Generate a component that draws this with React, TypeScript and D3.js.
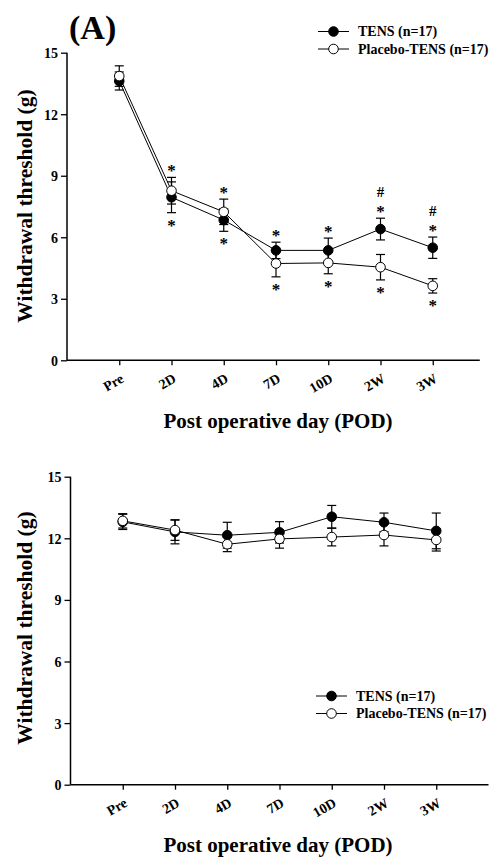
import React, { useEffect, useRef } from "react";
import * as d3 from "d3";

const categories = ["Pre", "2D", "4D", "7D", "10D", "2W", "3W"];
const yTicks = [0, 3, 6, 9, 12, 15];

// Panel A
const tensA = [13.62, 7.95, 6.84, 5.36, 5.36, 6.4, 5.49];
const tensSeA = [0.44, 0.75, 0.55, 0.4, 0.6, 0.53, 0.52];
const placeboA = [13.86, 8.27, 7.24, 4.72, 4.75, 4.54, 3.63];
const placeboSeA = [0.5, 0.65, 0.62, 0.65, 0.53, 0.62, 0.35];
// significance marks: drawn above the upper series / below the lower series
const marksAboveA = ["", "*", "*", "*", "*", "*", "*"];
const hashAboveA = ["", "", "", "", "", "#", "#"];
const marksBelowA = ["", "*", "*", "*", "*", "*", "*"];

// Panel B
const tensB = [12.8, 12.31, 12.15, 12.29, 13.05, 12.78, 12.36];
const tensSeB = [0.37, 0.58, 0.63, 0.52, 0.55, 0.45, 0.87];
const placeboB = [12.85, 12.4, 11.71, 11.97, 12.06, 12.16, 11.92];
const placeboSeB = [0.35, 0.5, 0.36, 0.45, 0.43, 0.53, 0.54];

const legendLabels = ["TENS (n=17)", "Placebo-TENS (n=17)"];

const FONT = "'Liberation Serif', 'Times New Roman', serif";

type Panel = {
  tens: number[];
  tensSe: number[];
  placebo: number[];
  placeboSe: number[];
  xRange: [number, number];
  axisEnd: number;
  yRange: [number, number];
  yTitleY: number;
  xTitleY: number;
  legendX: number;
  legendY: number;
  marks: boolean;
};

const panels: Panel[] = [
  {
    tens: tensA, tensSe: tensSeA, placebo: placeboA, placeboSe: placeboSeA,
    xRange: [67, 485], axisEnd: 7.9, yRange: [360.3, 52.7],
    yTitleY: 206, xTitleY: 428, legendX: 318, legendY: 31.5, marks: true,
  },
  {
    tens: tensB, tensSe: tensSeB, placebo: placeboB, placeboSe: placeboSeB,
    xRange: [70.5, 488.5], axisEnd: 8, yRange: [784.7, 476.7],
    yTitleY: 628, xTitleY: 852, legendX: 316, legendY: 696, marks: false,
  },
];

export default function App() {
  const ref = useRef<SVGSVGElement>(null);
  useEffect(() => {
    const svg = d3.select(ref.current);
    svg.selectAll("*").remove();

    svg.append("text").attr("x", 69).attr("y", 39)
      .attr("font-family", FONT).attr("font-weight", "bold").attr("font-size", 34)
      .text("(A)");

    panels.forEach((p) => {
      const g = svg.append("g");
      const x = d3.scaleLinear().domain([0, 8]).range(p.xRange);
      const y = d3.scaleLinear().domain([0, 15]).range(p.yRange);

      // axes
      const ya = g.append("g").attr("transform", `translate(${p.xRange[0]},0)`)
        .call(d3.axisLeft(y).tickValues(yTicks).tickSize(6).tickSizeOuter(0).tickFormat(d3.format("d")));
      const xa = g.append("g").attr("transform", `translate(0,${p.yRange[0]})`)
        .call(d3.axisBottom(x).tickValues([1, 2, 3, 4, 5, 6, 7]).tickSize(5).tickSizeOuter(0)
          .tickFormat((d) => categories[(d as number) - 1]));
      [ya, xa].forEach((a) => {
        a.select(".domain").remove();
        a.selectAll("line").attr("stroke", "#000").attr("stroke-width", 1.3);
        a.selectAll("text").attr("font-family", FONT).attr("font-weight", "bold")
          .attr("fill", "#000");
      });
      ya.selectAll("text").attr("x", -9).attr("dy", "0.36em").attr("font-size", 14);
      xa.selectAll("text")
        .attr("font-size", 14)
        .attr("text-anchor", "end")
        .attr("transform", "translate(5,21) rotate(-30)")
        .attr("y", 0).attr("dy", "0");
      g.append("line").attr("x1", p.xRange[0]).attr("x2", p.xRange[0])
        .attr("y1", y(0)).attr("y2", y(15)).attr("stroke", "#000").attr("stroke-width", 1.5);
      g.append("line").attr("x1", p.xRange[0]).attr("x2", x(p.axisEnd))
        .attr("y1", y(0)).attr("y2", y(0)).attr("stroke", "#000").attr("stroke-width", 1.5);

      // titles
      g.append("text").attr("transform", `translate(32,${p.yTitleY}) rotate(-90)`)
        .attr("text-anchor", "middle").attr("font-family", FONT).attr("font-weight", "bold")
        .attr("font-size", 21.5).text("Withdrawal threshold (g)");
      g.append("text").attr("x", 278).attr("y", p.xTitleY)
        .attr("text-anchor", "middle").attr("font-family", FONT).attr("font-weight", "bold")
        .attr("font-size", 21).text("Post operative day (POD)");

      const series = [
        { vals: p.tens, se: p.tensSe, fill: "#000" },
        { vals: p.placebo, se: p.placeboSe, fill: "#fff" },
      ];
      const line = d3.line<number>().x((_, i) => x(i + 1)).y((d) => y(d));
      series.forEach((s) => {
        g.append("path").attr("d", line(s.vals)).attr("fill", "none")
          .attr("stroke", "#000").attr("stroke-width", 1);
      });
      series.forEach((s) => {
        s.vals.forEach((v, i) => {
          const cx = x(i + 1);
          const y1 = y(v + s.se[i]);
          const y2 = y(v - s.se[i]);
          g.append("line").attr("x1", cx).attr("x2", cx).attr("y1", y1).attr("y2", y2)
            .attr("stroke", "#000").attr("stroke-width", 1.2);
          [y1, y2].forEach((yy) => g.append("line").attr("x1", cx - 4.5).attr("x2", cx + 4.5)
            .attr("y1", yy).attr("y2", yy).attr("stroke", "#000").attr("stroke-width", 1.2));
        });
      });
      series.forEach((s) => {
        s.vals.forEach((v, i) => {
          g.append("circle").attr("cx", x(i + 1)).attr("cy", y(v)).attr("r", 4.8)
            .attr("fill", s.fill).attr("stroke", "#000").attr("stroke-width", 1);
        });
      });

      if (p.marks) {
        categories.forEach((_, i) => {
          const hiIdx = p.tens[i] >= p.placebo[i] ? 0 : 1;
          const hi = series[hiIdx];
          const lo = series[1 - hiIdx];
          const top = y(hi.vals[i] + hi.se[i]);
          const bot = y(lo.vals[i] - lo.se[i]);
          const cx = x(i + 1);
          if (marksAboveA[i]) {
            g.append("text").attr("x", cx).attr("y", top - 1).attr("text-anchor", "middle")
              .attr("font-family", FONT).attr("font-weight", "bold").attr("font-size", 17)
              .text(marksAboveA[i]);
          }
          if (hashAboveA[i]) {
            g.append("text").attr("x", cx).attr("y", top - 21).attr("text-anchor", "middle")
              .attr("font-family", FONT).attr("font-weight", "bold").attr("font-size", 15)
              .text(hashAboveA[i]);
          }
          if (marksBelowA[i]) {
            g.append("text").attr("x", cx).attr("y", bot + 18).attr("text-anchor", "middle")
              .attr("font-family", FONT).attr("font-weight", "bold").attr("font-size", 17)
              .text(marksBelowA[i]);
          }
        });
      }

      // legend
      legendLabels.forEach((lab, i) => {
        const ly = p.legendY + i * 17.5;
        g.append("line").attr("x1", p.legendX).attr("x2", p.legendX + 31)
          .attr("y1", ly).attr("y2", ly).attr("stroke", "#000").attr("stroke-width", 1);
        g.append("circle").attr("cx", p.legendX + 15.5).attr("cy", ly).attr("r", 4.8)
          .attr("fill", i === 0 ? "#000" : "#fff").attr("stroke", "#000");
        g.append("text").attr("x", p.legendX + 40).attr("y", ly + 4.8)
          .attr("font-family", FONT).attr("font-weight", "bold").attr("font-size", 14)
          .text(lab);
      });
    });
  }, []);

  return (
    <svg ref={ref} width={490} height={860}
      style={{ position: "absolute", left: 0, top: 0, background: "#fff" }} />
  );
}
